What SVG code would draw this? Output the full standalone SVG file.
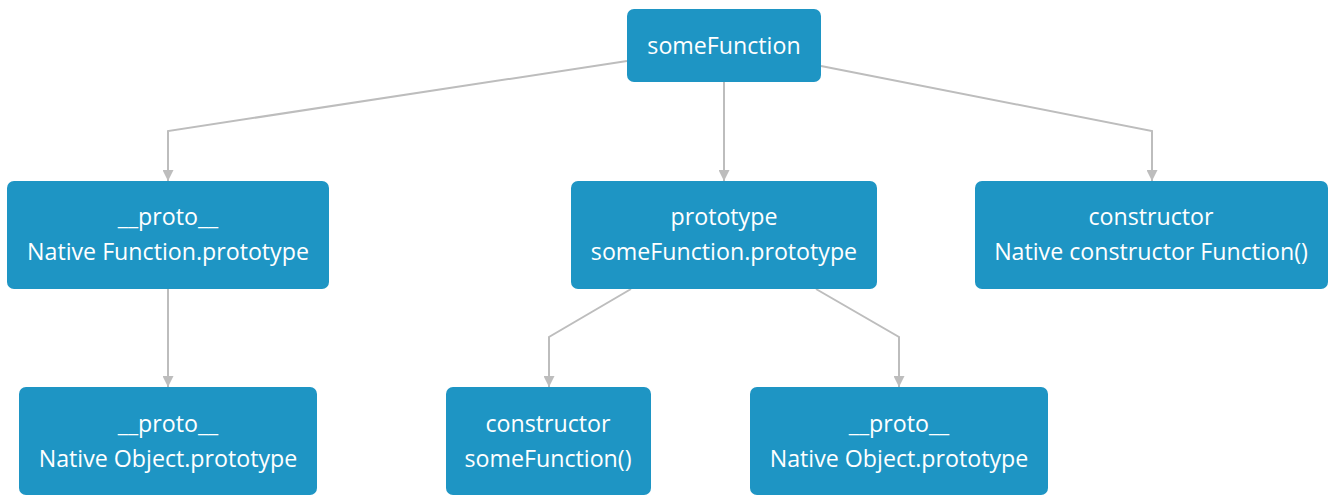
<svg xmlns="http://www.w3.org/2000/svg" width="1334" height="504" viewBox="0 0 1334 504">
<style>
.n{fill:#1e95c4}
.t{font-family:"Open Sans","Noto Sans",sans-serif;font-size:23.2px;fill:#ffffff;text-anchor:middle}
.c{fill:none;stroke:#bdbdbd;stroke-width:2}
</style>
<defs>
<marker id="a" markerWidth="11" markerHeight="11" refX="10" refY="5" orient="auto" markerUnits="userSpaceOnUse" viewBox="0 0 10 10">
<path d="M0,0 L10,5 L0,10 Z" fill="#bdbdbd"/>
</marker>
</defs>
<rect width="1334" height="504" fill="#ffffff"/>
<g id="connectors">
<path class="c" d="M627,61 L168,131 L168,181" marker-end="url(#a)"/>
<path class="c" d="M724,82 L724,181" marker-end="url(#a)"/>
<path class="c" d="M821,66 L1152,131 L1152,181" marker-end="url(#a)"/>
<path class="c" d="M168,289 L168,387" marker-end="url(#a)"/>
<path class="c" d="M631,289 L549,337 L549,387" marker-end="url(#a)"/>
<path class="c" d="M816,289 L899,337 L899,387" marker-end="url(#a)"/>
</g>
<g id="someFunction">
<rect class="n" x="627" y="9" width="194" height="73" rx="7"/>
<text class="t" x="724" y="54">someFunction</text>
</g>
<g id="proto1">
<rect class="n" x="7" y="181" width="322" height="108" rx="7"/>
<text class="t" x="168" y="225">__proto__</text>
<text class="t" x="168" y="260">Native Function.prototype</text>
</g>
<g id="prototype">
<rect class="n" x="571" y="181" width="306" height="108" rx="7"/>
<text class="t" x="724" y="225">prototype</text>
<text class="t" x="724" y="260">someFunction.prototype</text>
</g>
<g id="constructor1">
<rect class="n" x="975" y="181" width="353" height="108" rx="7"/>
<text class="t" x="1151" y="225">constructor</text>
<text class="t" x="1151" y="260">Native constructor Function()</text>
</g>
<g id="proto2">
<rect class="n" x="19" y="387" width="298" height="108" rx="7"/>
<text class="t" x="168" y="432">__proto__</text>
<text class="t" x="168" y="467">Native Object.prototype</text>
</g>
<g id="constructor2">
<rect class="n" x="446" y="387" width="205" height="108" rx="7"/>
<text class="t" x="548" y="432">constructor</text>
<text class="t" x="548" y="467">someFunction()</text>
</g>
<g id="proto3">
<rect class="n" x="750" y="387" width="298" height="108" rx="7"/>
<text class="t" x="899" y="432">__proto__</text>
<text class="t" x="899" y="467">Native Object.prototype</text>
</g>
</svg>
